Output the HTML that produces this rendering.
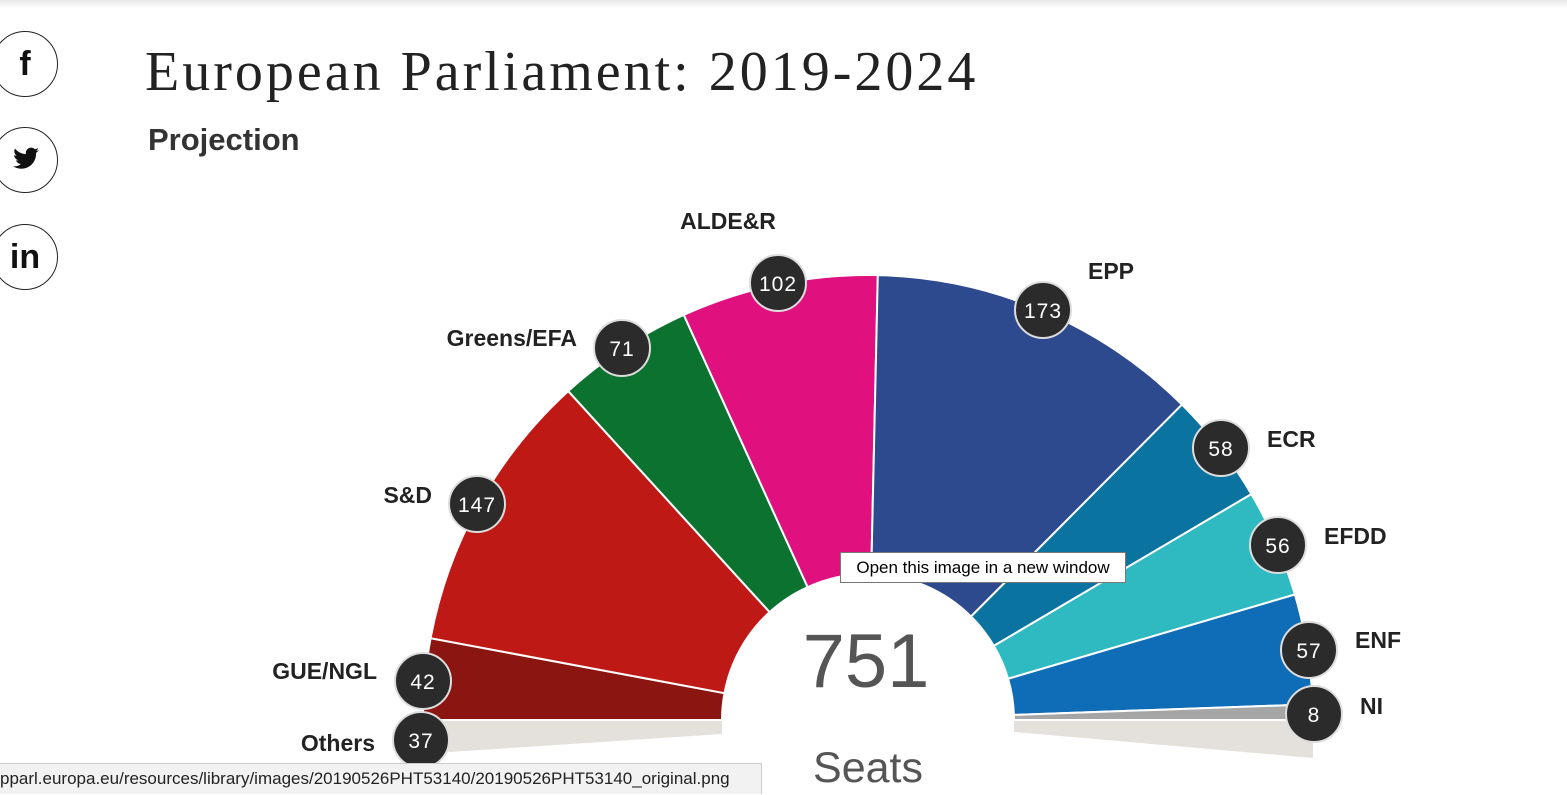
<!DOCTYPE html>
<html><head><meta charset="utf-8"><style>
html,body{margin:0;padding:0;background:#fff;width:1567px;height:795px;overflow:hidden;position:relative;font-family:"Liberation Sans",sans-serif}
.top{position:absolute;left:0;top:0;width:1567px;height:8px;background:linear-gradient(#e6e6e6,#fff)}
.title{position:absolute;left:145px;top:40px;font-family:"Liberation Serif",serif;font-size:56px;letter-spacing:3px;color:#222;white-space:nowrap}
.proj{position:absolute;left:148px;top:122px;font-size:31px;font-weight:bold;color:#333}
.soc{position:absolute;left:-8px;width:64px;height:64px;border:1.5px solid #222;border-radius:50%;display:flex;align-items:center;justify-content:center;font-weight:bold;font-size:34px;color:#111}
.tip{position:absolute;left:840px;top:552px;width:284px;height:29px;border:1px solid #777;background:#fff;font-size:17px;line-height:29px;text-align:center;color:#000}
.status{position:absolute;left:0;top:763px;width:762px;height:31px;box-sizing:border-box;background:#f2f2f2;border:1px solid #ccc;border-left:none;border-bottom:none;font-size:17px;line-height:30px;color:#222;white-space:nowrap;overflow:hidden}
</style></head><body>
<div class="top"></div>
<div class="soc" style="top:31px">f</div>
<div class="soc" style="top:127px"><svg width="30" height="26" viewBox="0 0 30 26"><path d="M29 3c-1 .5-2 .8-3 .9 1.1-.7 1.9-1.7 2.3-2.9-1 .6-2.1 1-3.3 1.3C24 1.2 22.6.6 21.1.6c-2.9 0-5.3 2.4-5.3 5.3 0 .4 0 .8.1 1.2C11.5 6.9 7.6 4.8 5 1.6c-.5.8-.7 1.700-.7 2.700 0 1.800.9 3.400 2.300 4.400-.9 0-1.700-.3-2.400-.7 0 2.600 1.800 4.700 4.200 5.200-.8.2-1.600.3-2.400.1.7 2.100 2.600 3.600 4.900 3.700C9 18.700 6.200 19.600 3 19.300c2.300 1.500 5.100 2.400 8.100 2.400 9.700 0 15-8 15-15v-.7C27.200 5 28.200 4.100 29 3z" fill="#111"/></svg></div>
<div class="soc" style="top:224px">in</div>
<div class="title">European Parliament: 2019-2024</div>
<div class="proj">Projection</div>
<svg id="s" width="1567" height="795" style="position:absolute;left:0;top:0">
<polygon points="428,720 722,720 722,734 450,752 428,745" fill="#e4e1dd"/>
<polygon points="1014,720 1313,720 1313,758 1014,732" fill="#e4e1dd"/>
<g id="w"></g>
<circle cx="868" cy="720" r="146" fill="#fff"/>
<text x="866" y="687" font-size="76" fill="#555" text-anchor="middle" font-family="Liberation Sans">751</text>
<text x="868" y="782" font-size="43" fill="#555" text-anchor="middle" font-family="Liberation Sans">Seats</text>
<g id="b" font-family="Liberation Sans" font-weight="bold"></g>
</svg>
<div class="tip">Open this image in a new window</div>
<div class="status">pparl.europa.eu/resources/library/images/20190526PHT53140/20190526PHT53140_original.png</div>
<script>
var d=[[42,"#8b1510"],[147,"#bf1916"],[71,"#0c7230"],[102,"#e0117f"],[173,"#2d4a8e"],[58,"#0a73a0"],[56,"#2fbac1"],[57,"#0f6db8"],[8,"#a6a6a6"]];
var cx=868,cy=720,R=445,r=146,acc=0,h="";
function p(a,rr){var t=Math.PI-a/714*Math.PI;return (cx+rr*Math.cos(t)).toFixed(1)+","+(cy-rr*Math.sin(t)).toFixed(1);}
d.forEach(function(e){var a0=acc,a1=acc+e[0];acc=a1;
h+='<path d="M'+p(a0,r)+' L'+p(a0,R)+' A'+R+','+R+' 0 0 1 '+p(a1,R)+' L'+p(a1,r)+' A'+r+','+r+' 0 0 0 '+p(a0,r)+'Z" fill="'+e[1]+'" stroke="#fff" stroke-width="2"/>';});
document.getElementById("w").innerHTML=h;
var b=[["42",423,681],["37",421,740],["147",477,504],["71",622,348],["102",778,283],["173",1043,310],["58",1221,448],["56",1278,545],["57",1309,650],["8",1314,714]];
var L=[["GUE/NGL",377,679,"end"],["Others",375,751,"end"],["S&amp;D",432,503,"end"],["Greens/EFA",577,346,"end"],["ALDE&amp;R",728,229,"middle"],["EPP",1088,279,"start"],["ECR",1267,447,"start"],["EFDD",1324,544,"start"],["ENF",1355,648,"start"],["NI",1360,714,"start"]];
var g="";
b.forEach(function(e){g+='<circle cx="'+e[1]+'" cy="'+e[2]+'" r="28" fill="#2b2b2b" stroke="#ddd" stroke-width="2"/><text x="'+e[1]+'" y="'+(e[2]+8)+'" fill="#fff" font-size="21" font-weight="normal" text-anchor="middle" letter-spacing="1">'+e[0]+'</text>';});
L.forEach(function(e){g+='<text x="'+e[1]+'" y="'+e[2]+'" font-size="23" fill="#222" text-anchor="'+e[3]+'">'+e[0]+'</text>';});
document.getElementById("b").innerHTML=g;
</script>
</body></html>
